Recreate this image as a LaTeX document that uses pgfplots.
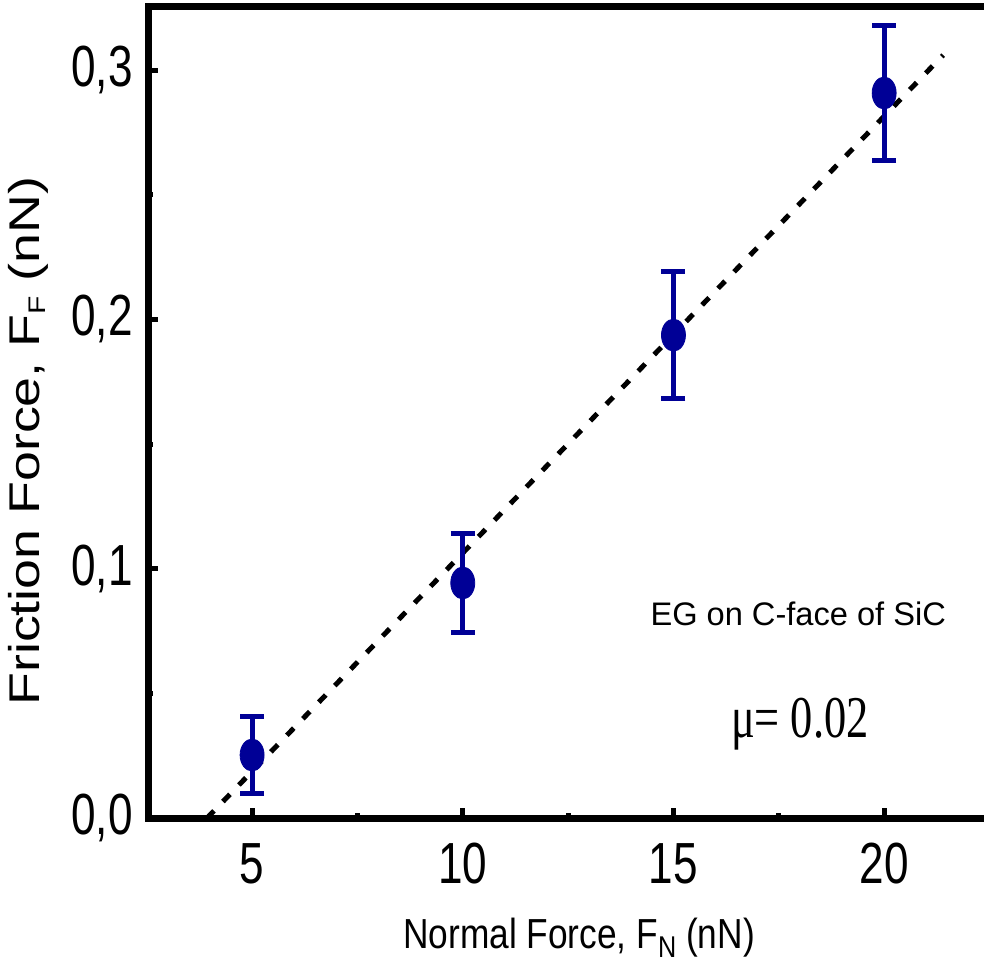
\documentclass[border=0pt]{standalone}
\usepackage{pgfplots}
\pgfplotsset{compat=1.18}
\usepackage{fontspec}
\setmainfont{Liberation Sans}
\newfontfamily\narrowsans{Liberation Sans}[FakeStretch=0.76]
\newfontfamily\xlabfont{Liberation Sans}[FakeStretch=0.84]
\newfontfamily\widesans{Liberation Sans}[FakeStretch=1.25]
\newfontfamily\narrowserif{Liberation Serif}[FakeStretch=0.75]
\definecolor{dblue}{RGB}{0,0,150}
\begin{document}
\begin{tikzpicture}
\begin{axis}[
  scale only axis,
  width=422.8pt, height=405.5pt,
  xmin=2.53, xmax=22.6, ymin=0, ymax=0.3253,
  axis line style={line width=3.5pt},
  xtick={5,10,15,20}, ytick={0,0.1,0.2,0.3},
  minor x tick num=1, minor y tick num=1,
  xtick pos=bottom, ytick pos=left,
  tick align=inside,
  major tick length=5pt, minor tick length=2.5pt,
  every tick/.style={black, line width=2.5pt},
  /pgf/number format/assume math mode=true,
  yticklabel style={/pgf/number format/use comma, /pgf/number format/fixed, /pgf/number format/fixed zerofill, /pgf/number format/precision=1},
  ticklabel style={font=\narrowsans\fontsize{29}{32}\selectfont, inner sep=0pt},
  xticklabel style={anchor=north, yshift=-12.5pt},
  yticklabel style={anchor=east, xshift=-7.5pt},
  xlabel={Normal Force, F\raisebox{-4.5pt}{\fontsize{15}{15}\selectfont N} (nN)},
  xlabel style={font=\xlabfont\fontsize{21}{24}\selectfont, at={(axis cs:12.76,0)}, anchor=base, yshift=-65pt, inner sep=0pt},
  ylabel={Friction Force, F\raisebox{-3pt}{\fontsize{12}{12}\selectfont F} (nN)},
  ylabel style={font=\widesans\fontsize{21.5}{24}\selectfont, at={([xshift=-60pt]axis cs:2.53,0.1512)}, anchor=center, inner sep=0pt},
  clip=false,
]
\addplot[black, line width=2.5pt, dash pattern=on 5pt off 6.5pt] coordinates {(3.93,0) (21.40,0.306)};
\addplot[dblue, only marks, mark=*, mark size=8pt, mark options={xscale=0.75, fill=dblue, draw=dblue},
  error bars/.cd, y dir=both, y explicit,
  error bar style={line width=2.5pt, dblue},
  error mark options={rotate=90, mark size=6pt, line width=2.5pt, dblue}]
  coordinates {
    (5,0.0253) +- (0,0.0153)
    (10,0.0943) +- (0,0.0197)
    (15,0.1937) +- (0,0.0255)
    (20,0.2908) +- (0,0.0271)
  };
\node[anchor=base, inner sep=0pt] at (axis cs:17.96,0.0774) {\fontsize{16.3}{18}\selectfont EG on C-face of SiC};
\node[anchor=base, inner sep=0pt] at (axis cs:18.0,0.0325) {\narrowserif\fontsize{29.6}{32}\selectfont μ= 0.02};
\coordinate (BL) at (axis cs:2.53,0);
\coordinate (TR) at (axis cs:22.37,0.3253);
\end{axis}
\pgfresetboundingbox
\path ([xshift=-74pt,yshift=-73pt]BL) rectangle ([yshift=3.5pt]TR);
\end{tikzpicture}
\end{document}
